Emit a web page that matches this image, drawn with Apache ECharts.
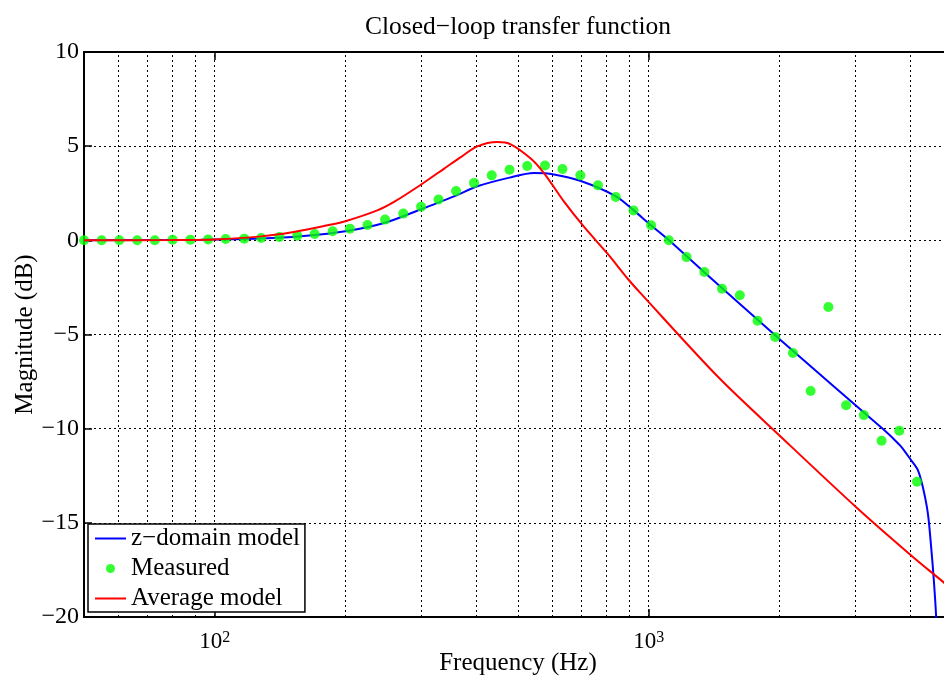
<!DOCTYPE html>
<html>
<head>
<meta charset="utf-8">
<script src="https://cdn.jsdelivr.net/npm/echarts@6/dist/echarts.min.js"></script>
<style>
  html, body { margin: 0; padding: 0; background: #fff; }
  #chart { width: 944px; height: 677px; }
</style>
</head>
<body>
<div id="chart"></div>
<script>
// measured points (Hz, dB)
const measuredFreq = [50, 54.9, 60.3, 66.3, 72.8, 80, 87.9, 96.6, 106, 117, 128, 141, 155, 170, 187, 205,
    225, 247, 272, 299, 328, 360, 396, 435, 478, 525, 577, 633, 696, 764, 840, 923, 1013, 1113, 1223,
    1344, 1476, 1622, 1782, 1957, 2150, 2362, 2595, 2851, 3132, 3441, 3780, 4153]
const measuredDb = [0, 0, 0, 0, 0, 0.03, 0.03, 0.05, 0.07, 0.09, 0.12, 0.18, 0.25, 0.34, 0.48, 0.62,
    0.81, 1.1, 1.42, 1.78, 2.17, 2.62, 3.05, 3.45, 3.75, 3.95, 3.97, 3.79, 3.45, 2.92, 2.3, 1.59, 0.8, 0,
    -0.89, -1.68, -2.57, -2.92, -4.27, -5.13, -5.98, -8.0, -3.54, -8.76, -9.28, -10.64, -10.11, -12.82]

// z-domain model
const zFreq = [50, 93, 128, 158, 202, 248, 301, 361, 403, 478, 544, 605, 698, 841, 920, 1012, 1114, 1341,
    2019, 3494, 3650, 3817, 4026, 4172, 4283, 4399, 4477, 4541, 4597, 4650]
const zDb = [0, 0.03, 0.1, 0.22, 0.5, 0.95, 1.68, 2.39, 2.87, 3.33, 3.57, 3.5, 3.15, 2.34, 1.63, 0.8, 0,
    -1.68, -5.32, -10.09, -10.5, -10.95, -11.68, -12.2, -13.1, -14.5, -16.3, -18.06, -20, -23]

// average model
const avgFreq = [50, 80, 100, 128, 152, 182, 201, 237, 259, 298, 338, 369, 403, 448, 481, 535, 575, 639,
    710, 804, 895, 960, 1452, 2019, 3034, 4026, 4823, 5000]
const avgDb = [0, 0.02, 0.05, 0.21, 0.44, 0.8, 1.03, 1.59, 2.04, 2.94, 3.81, 4.42, 4.99, 5.22, 5.1, 4.34,
    3.54, 2.04, 0.71, -0.71, -2.04, -2.83, -7.3, -10.44, -14.25, -16.73, -18.23, -18.55]

// vertical grid lines of the log axis
const gridFreqs = [60, 70, 80, 90, 100, 200, 300, 400, 500, 600, 700, 800, 900, 1000, 2000, 3000, 4000]

const seriesNames = ['z−domain model', 'Measured', 'Average model']

const FONT = '"Liberation Serif", "DejaVu Serif", serif'

const zip = (xs, ys) => xs.map((x, i) => [x, ys[i]])

window.addEventListener('DOMContentLoaded', () => {
    const chart = echarts.init(document.getElementById('chart'))

    const dotted = { type: [2, 3], color: '#000', width: 1 }
    const frame = { onZero: false, lineStyle: { color: '#000', width: 2 } }

    chart.setOption({
        animation: false,
        title: {
            text: 'Closed−loop transfer function',
            left: 513,
            top: 9,
            textAlign: 'center',
            textStyle: { fontFamily: FONT, fontSize: 25.5, fontWeight: 'normal', color: '#000' }
        },
        grid: { left: 84, right: -8, top: 52, bottom: 60, outerBoundsMode: 'none' },
        legend: {
            orient: 'vertical',
            left: 88,
            top: 524,
            data: [
                { name: seriesNames[0], itemStyle: { opacity: 0 } },
                seriesNames[1],
                { name: seriesNames[2], itemStyle: { opacity: 0 } }
            ],
            backgroundColor: '#fff',
            borderColor: '#000',
            borderWidth: 1.5,
            borderRadius: 0,
            padding: [2, 5, 1, 6],
            itemGap: 5,
            itemWidth: 31,
            itemHeight: 9,
            textStyle: { fontFamily: FONT, fontSize: 25, color: '#000' }
        },
        xAxis: [
            {
                type: 'log',
                logBase: 10,
                min: 50,
                max: 5000,
                name: 'Frequency (Hz)',
                nameLocation: 'middle',
                nameGap: 34,
                nameMoveOverlap: false,
                nameTextStyle: { fontFamily: FONT, fontSize: 25, color: '#000' },
                axisLine: frame,
                axisTick: { inside: true, length: 8, lineStyle: { color: '#000', width: 1.5 } },
                splitLine: { show: false },
                axisLabel: {
                    margin: 13,
                    formatter: v => {
                        const e = Math.log10(v)
                        if (Math.abs(e - Math.round(e)) > 1e-6) return ''
                        return '{b|10}{s|' + Math.round(e) + '}'
                    },
                    rich: {
                        b: { fontFamily: FONT, fontSize: 23, color: '#000' },
                        s: { fontFamily: FONT, fontSize: 16, color: '#000', verticalAlign: 'top' }
                    }
                }
            },
            {
                type: 'log',
                logBase: 10,
                min: 50,
                max: 5000,
                position: 'top',
                axisLine: frame,
                axisTick: { inside: true, length: 8, lineStyle: { color: '#000', width: 1.5 } },
                axisLabel: { show: false },
                splitLine: { show: false }
            }
        ],
        yAxis: {
            type: 'value',
            min: -20,
            max: 10,
            interval: 5,
            name: 'Magnitude (dB)',
            nameLocation: 'middle',
            nameRotate: 90,
            nameGap: 46,
            nameMoveOverlap: false,
            nameTextStyle: { fontFamily: FONT, fontSize: 25, color: '#000' },
            axisLine: { show: true, onZero: false, lineStyle: { color: '#000', width: 2 } },
            axisTick: { show: true, inside: true, length: 8, lineStyle: { color: '#000', width: 1.5 } },
            axisLabel: {
                margin: 5,
                fontFamily: FONT,
                fontSize: 24,
                color: '#000',
                formatter: v => (v < 0 ? '−' + Math.abs(v) : String(v))
            },
            splitLine: { show: true, lineStyle: dotted }
        },
        series: [
            {
                name: 'gridlines',
                type: 'line',
                data: [],
                silent: true,
                z: 1,
                markLine: {
                    silent: true,
                    symbol: 'none',
                    z: 1,
                    label: { show: false },
                    lineStyle: dotted,
                    emphasis: { disabled: true },
                    data: gridFreqs.map(f => ({ xAxis: f }))
                }
            },
            {
                name: seriesNames[0],
                type: 'line',
                data: zip(zFreq, zDb),
                showSymbol: false,
                symbol: 'none',
                smooth: 0.3,
                lineStyle: { color: '#0000ff', width: 2 },
                itemStyle: { color: '#0000ff' },
                z: 3
            },
            {
                name: seriesNames[1],
                type: 'scatter',
                data: zip(measuredFreq, measuredDb),
                symbol: 'circle',
                symbolSize: 10,
                itemStyle: { color: '#00ff00' },
                z: 4
            },
            {
                name: seriesNames[2],
                type: 'line',
                data: zip(avgFreq, avgDb),
                showSymbol: false,
                symbol: 'none',
                smooth: 0.3,
                lineStyle: { color: '#ff0000', width: 2 },
                itemStyle: { color: '#ff0000' },
                z: 5
            }
        ]
    })
})
</script>
</body>
</html>
